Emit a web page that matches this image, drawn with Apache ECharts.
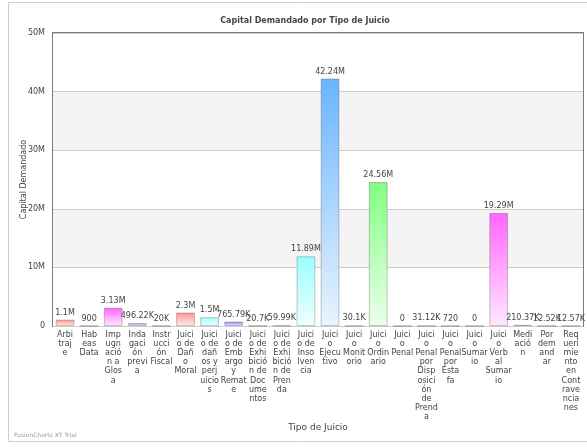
<!DOCTYPE html>
<html><head><meta charset="utf-8">
<script src="https://cdn.jsdelivr.net/npm/echarts@6/dist/echarts.min.js"></script>
<style>html,body{margin:0;padding:0;background:#fff}#c{width:587px;height:447px}</style>
</head><body><div id="c"></div>
<script>
const categories = ["Arbitraje","Habeas Data","Impugnación a Glosa","Indagación previa","Instrucción Fiscal","Juicio de Daño Moral","Juicio de daños y perjuicios","Juicio de Embargo y Remate","Juicio de Exhibición de Documentos","Juicio de Exhibición de Prenda","Juicio de Insolvencia","Juicio Ejecutivo","Juicio Monitorio","Juicio Ordinario","Juicio Penal","Juicio Penal por Disposición de Prenda","Juicio Penal por Estafa","Juicio Sumario","Juicio Verbal Sumario","Mediación","Por demandar","Requerimiento en Contravenciones"];
// tick labels as wrapped in the reference
const xTickLabels = ["Arbi\ntraj\ne","Hab\neas\nData","Imp\nugn\nació\nn a\nGlos\na","Inda\ngaci\nón\nprevi\na","Instr\nucci\nón\nFiscal","Juici\no de\nDañ\no\nMoral","Juici\no de\ndañ\nos y\nperj\nuicio\ns","Juici\no de\nEmb\nargo\ny\nRemat\ne","Juici\no de\nExhi\nbició\nn de\nDoc\nume\nntos","Juici\no de\nExhi\nbició\nn de\nPren\nda","Juici\no de\nInso\nlven\ncia","Juici\no\nEjecu\ntivo","Juici\no\nMonit\norio","Juici\no\nOrdin\nario","Juici\no\nPenal","Juici\no\nPenal\npor\nDisp\nosici\nón\nde\nPrend\na","Juici\no\nPenal\npor\nEsta\nfa","Juici\no\nSumar\nio","Juici\no\nVerb\nal\nSumar\nio","Medi\nació\nn","Por\ndem\nand\nar","Req\nueri\nmie\nnto\nen\nCont\nrave\nncia\nnes"];
const capital = [1100000,900,3130000,496220,20000,2300000,1500000,765790,20700,59990,11890000,42240000,30100,24560000,0,31120,720,0,19290000,210370,12520,12570];
const yTicks = [0,10000000,20000000,30000000,40000000,50000000];
const barColors = ["#ff8f8f","#a07070","#ff66ff","#a399ff","#8f9a70","#ff8f8f","#99ffff","#8080ff","#8fa070","#b09090","#99ffff","#6ab4ff","#7f9a60","#80ff80","#999999","#5f9999","#a06666","#999999","#ff66ff","#a090d0","#a07070","#a08080"];

function fmt(v){
  if (v >= 1e6) return (+(v/1e6).toFixed(2)) + 'M';
  if (v >= 1e3) return (+(v/1e3).toFixed(2)) + 'K';
  return String(v);
}
function lighten(hex, t){
  const n = parseInt(hex.slice(1),16);
  const r=(n>>16)&255,g=(n>>8)&255,b=n&255;
  const f=c=>Math.round(c+(255-c)*t);
  return 'rgb('+f(r)+','+f(g)+','+f(b)+')';
}
const chart = echarts.init(document.getElementById('c'), null, {renderer:'canvas'});
const data = capital.map((v,i)=>({
  value:v,
  itemStyle:{color:new echarts.graphic.LinearGradient(0,0,0,1,[{offset:0,color:barColors[i]},{offset:1,color:lighten(barColors[i],0.85)}])}
}));
chart.setOption({
  animation:false,
  backgroundColor:'#fff',
  textStyle:{fontFamily:'DejaVu Sans'},
  title:{text:'Capital Demandado por Tipo de Juicio',left:300,textAlign:'center',top:12,textStyle:{fontSize:8,fontWeight:'bold',color:'#444',fontFamily:'DejaVu Sans'}},
  graphic:[
    {type:'rect',shape:{x:8.5,y:2.5,width:600,height:439},style:{fill:'none',stroke:'#d0d0d0',lineWidth:1},z:-1},
    {type:'text',left:14,top:432,style:{text:'FusionCharts XT Trial',fontSize:6,fill:'#999',fontFamily:'DejaVu Sans'}}
  ],
  grid:{left:53,right:4,top:33,bottom:121,show:true,borderColor:'#7a7a7a',borderWidth:2,backgroundColor:'transparent'},
  xAxis:{type:'category',data:categories,name:'Tipo de Juicio',nameLocation:'middle',nameGap:97,nameMoveOverlap:false,
    nameTextStyle:{fontSize:9,color:'#444',fontFamily:'DejaVu Sans'},
    axisLine:{show:false},axisTick:{show:false},
    axisLabel:{interval:0,fontSize:8,lineHeight:9.2,color:'#444',margin:4,verticalAlign:'top',fontFamily:'DejaVu Sans',hideOverlap:false,
      formatter:(v,i)=>xTickLabels[i]}},
  yAxis:{type:'value',min:yTicks[0],max:yTicks[yTicks.length-1],interval:yTicks[1]-yTicks[0],
    name:'Capital Demandado',nameLocation:'middle',nameGap:25,nameRotate:90,nameMoveOverlap:false,
    nameTextStyle:{fontSize:8,color:'#444',fontFamily:'DejaVu Sans'},
    axisLine:{show:false},axisTick:{show:false},
    axisLabel:{fontSize:8,color:'#444',margin:8,formatter:v=>v===0?'0':fmt(v)},
    splitLine:{show:true,lineStyle:{color:'#cccccc',width:1}},
    splitArea:{show:true,areaStyle:{color:['#ffffff','#f4f4f4']}}},
  series:[{type:'bar',data:data,barWidth:'78%',
    itemStyle:{borderColor:'rgba(90,90,90,0.35)',borderWidth:1},
    label:{show:true,position:'top',distance:3,fontSize:8,color:'#444',formatter:p=>fmt(p.value),fontFamily:'DejaVu Sans'}}]
});
</script></body></html>
